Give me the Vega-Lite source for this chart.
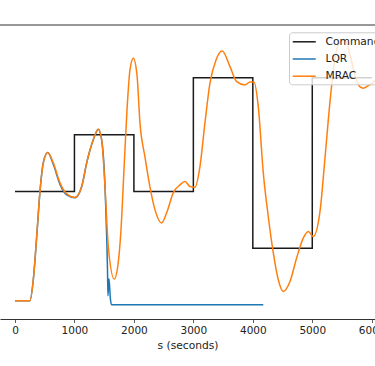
{
  "$schema": "https://vega.github.io/schema/vega-lite/v6.json",
  "width": 375,
  "height": 294,
  "autosize": {"type": "none"},
  "padding": {"left": 0, "top": 25, "right": 0, "bottom": 47},
  "background": "white",
  "config": {
    "view": {"stroke": null},
    "font": "DejaVu Sans",
    "legend": {
      "orient": "none",
      "legendX": 289,
      "legendY": 7.3,
      "fillColor": "rgba(255,255,255,0.8)",
      "strokeColor": "#cccccc",
      "cornerRadius": 3,
      "padding": 3,
      "symbolType": "M-1,0H3",
      "symbolSize": 132,
      "symbolStrokeWidth": 1.5,
      "labelFontSize": 10.7,
      "labelOffset": 20.5,
      "rowPadding": 5.2,
      "labelColor": "#222222",
      "labelFont": "DejaVu Sans"
    }
  },
  "data": {
    "values": [
      {"series": "Command", "s": 0, "v": 0},
      {"series": "Command", "s": 1000, "v": 1},
      {"series": "Command", "s": 2000, "v": 0},
      {"series": "Command", "s": 3000, "v": 2},
      {"series": "Command", "s": 4000, "v": -1},
      {"series": "Command", "s": 5000, "v": 2},
      {"series": "Command", "s": 6000, "v": 2},
      {"series": "LQR", "s": 0, "v": -1.921},
      {"series": "LQR", "s": 252, "v": -1.921},
      {"series": "LQR", "s": 308, "v": -1.552},
      {"series": "LQR", "s": 365, "v": -0.796},
      {"series": "LQR", "s": 420, "v": -0.005},
      {"series": "LQR", "s": 476, "v": 0.504},
      {"series": "LQR", "s": 550, "v": 0.685},
      {"series": "LQR", "s": 644, "v": 0.48},
      {"series": "LQR", "s": 757, "v": 0.125},
      {"series": "LQR", "s": 870, "v": -0.06},
      {"series": "LQR", "s": 1009, "v": -0.11},
      {"series": "LQR", "s": 1122, "v": 0.088},
      {"series": "LQR", "s": 1206, "v": 0.504},
      {"series": "LQR", "s": 1317, "v": 0.909},
      {"series": "LQR", "s": 1401, "v": 1.097},
      {"series": "LQR", "s": 1458, "v": 0.909},
      {"series": "LQR", "s": 1514, "v": 0.083},
      {"series": "LQR", "s": 1522, "v": -0.146},
      {"series": "LQR", "s": 1544, "v": -0.849},
      {"series": "LQR", "s": 1556, "v": -1.376},
      {"series": "LQR", "s": 1564, "v": -1.833},
      {"series": "LQR", "s": 1581, "v": -1.534},
      {"series": "LQR", "s": 1606, "v": -1.903},
      {"series": "LQR", "s": 1623, "v": -1.991},
      {"series": "LQR", "s": 4176, "v": -1.991},
      {"series": "MRAC", "s": 0, "v": -1.921},
      {"series": "MRAC", "s": 252, "v": -1.921},
      {"series": "MRAC", "s": 308, "v": -1.552},
      {"series": "MRAC", "s": 365, "v": -0.796},
      {"series": "MRAC", "s": 420, "v": -0.005},
      {"series": "MRAC", "s": 476, "v": 0.504},
      {"series": "MRAC", "s": 550, "v": 0.685},
      {"series": "MRAC", "s": 644, "v": 0.504},
      {"series": "MRAC", "s": 757, "v": 0.153},
      {"series": "MRAC", "s": 870, "v": -0.04},
      {"series": "MRAC", "s": 1009, "v": -0.105},
      {"series": "MRAC", "s": 1122, "v": 0.088},
      {"series": "MRAC", "s": 1206, "v": 0.504},
      {"series": "MRAC", "s": 1317, "v": 0.909},
      {"series": "MRAC", "s": 1401, "v": 1.097},
      {"series": "MRAC", "s": 1458, "v": 0.909},
      {"series": "MRAC", "s": 1514, "v": 0.083},
      {"series": "MRAC", "s": 1569, "v": -0.967},
      {"series": "MRAC", "s": 1670, "v": -1.54},
      {"series": "MRAC", "s": 1732, "v": -1.288},
      {"series": "MRAC", "s": 1783, "v": -0.673},
      {"series": "MRAC", "s": 1833, "v": 0.381},
      {"series": "MRAC", "s": 1884, "v": 1.436},
      {"series": "MRAC", "s": 1934, "v": 2.139},
      {"series": "MRAC", "s": 1990, "v": 2.344},
      {"series": "MRAC", "s": 2052, "v": 2.051},
      {"series": "MRAC", "s": 2102, "v": 1.207},
      {"series": "MRAC", "s": 2186, "v": 0.61},
      {"series": "MRAC", "s": 2270, "v": 0.083},
      {"series": "MRAC", "s": 2355, "v": -0.323},
      {"series": "MRAC", "s": 2467, "v": -0.555},
      {"series": "MRAC", "s": 2551, "v": -0.374},
      {"series": "MRAC", "s": 2662, "v": -0.023},
      {"series": "MRAC", "s": 2775, "v": 0.118},
      {"series": "MRAC", "s": 2859, "v": 0.176},
      {"series": "MRAC", "s": 2943, "v": 0.088},
      {"series": "MRAC", "s": 3027, "v": 0.077},
      {"series": "MRAC", "s": 3111, "v": 0.439},
      {"series": "MRAC", "s": 3195, "v": 1.207},
      {"series": "MRAC", "s": 3280, "v": 1.91},
      {"series": "MRAC", "s": 3381, "v": 2.315},
      {"series": "MRAC", "s": 3486, "v": 2.473},
      {"series": "MRAC", "s": 3616, "v": 2.197},
      {"series": "MRAC", "s": 3729, "v": 1.933},
      {"series": "MRAC", "s": 3868, "v": 1.875},
      {"series": "MRAC", "s": 3952, "v": 1.928},
      {"series": "MRAC", "s": 4020, "v": 1.928},
      {"series": "MRAC", "s": 4092, "v": 1.494},
      {"series": "MRAC", "s": 4176, "v": 0.329},
      {"series": "MRAC", "s": 4260, "v": -0.439},
      {"series": "MRAC", "s": 4344, "v": -1.077},
      {"series": "MRAC", "s": 4428, "v": -1.552},
      {"series": "MRAC", "s": 4512, "v": -1.757},
      {"series": "MRAC", "s": 4625, "v": -1.582},
      {"series": "MRAC", "s": 4738, "v": -1.165},
      {"series": "MRAC", "s": 4849, "v": -0.819},
      {"series": "MRAC", "s": 4933, "v": -0.703},
      {"series": "MRAC", "s": 5017, "v": -0.791},
      {"series": "MRAC", "s": 5130, "v": -0.351},
      {"series": "MRAC", "s": 5214, "v": 0.592},
      {"series": "MRAC", "s": 5298, "v": 1.582},
      {"series": "MRAC", "s": 5382, "v": 2.344},
      {"series": "MRAC", "s": 5466, "v": 2.631},
      {"series": "MRAC", "s": 5550, "v": 2.666},
      {"series": "MRAC", "s": 5635, "v": 2.402},
      {"series": "MRAC", "s": 5718, "v": 2.051},
      {"series": "MRAC", "s": 5803, "v": 1.84},
      {"series": "MRAC", "s": 5858, "v": 1.817},
      {"series": "MRAC", "s": 5937, "v": 1.858},
      {"series": "MRAC", "s": 6054, "v": 1.946},
      {"series": "MRAC", "s": 6140, "v": 2.02}
    ]
  },
  "layer": [
    {
      "data": {"values": [{"edge": "top"}]},
      "mark": {"type": "rule", "color": "#333333", "strokeWidth": 1},
      "encoding": {
        "y": {"datum": 2.93, "type": "quantitative", "scale": {"domain": [-2.243, 2.93], "nice": false, "zero": false}, "axis": null}
      }
    },
    {
      "transform": [{"filter": "datum.series === 'Command'"}],
      "mark": {"type": "line", "interpolate": "step-after", "strokeWidth": 1.5, "clip": true},
      "encoding": {
        "x": {"field": "s", "type": "quantitative"},
        "y": {"field": "v", "type": "quantitative"},
        "color": {"field": "series", "type": "nominal"}
      }
    },
    {
      "transform": [{"filter": "datum.series === 'LQR'"}],
      "mark": {"type": "line", "interpolate": "monotone", "strokeWidth": 1.5, "clip": true},
      "encoding": {
        "x": {"field": "s", "type": "quantitative"},
        "y": {"field": "v", "type": "quantitative"},
        "color": {"field": "series", "type": "nominal"}
      }
    },
    {
      "transform": [{"filter": "datum.series === 'MRAC'"}],
      "mark": {"type": "line", "interpolate": "monotone", "strokeWidth": 1.5, "clip": true},
      "encoding": {
        "x": {
          "field": "s",
          "type": "quantitative",
          "scale": {"domain": [-252, 6055], "nice": false, "zero": false},
          "axis": {
            "values": [0, 1000, 2000, 3000, 4000, 5000, 6000],
            "format": "d",
            "title": "s (seconds)",
            "grid": false,
            "labelFontSize": 10.5,
            "labelColor": "#222222",
            "labelFlush": false,
            "labelPadding": 3,
            "tickColor": "#333333",
            "tickSize": 3.5,
            "tickWidth": 0.8,
            "domainColor": "#333333",
            "domainWidth": 1,
            "titleFontSize": 10.7,
            "titleFontWeight": "normal",
            "titleColor": "#222222",
            "titlePadding": 4
          }
        },
        "y": {"field": "v", "type": "quantitative"},
        "color": {
          "field": "series",
          "type": "nominal",
          "title": null,
          "scale": {"domain": ["Command", "LQR", "MRAC"], "range": ["#1a1a1a", "#1f77b4", "#ff7f0e"]}
        }
      }
    }
  ]
}
